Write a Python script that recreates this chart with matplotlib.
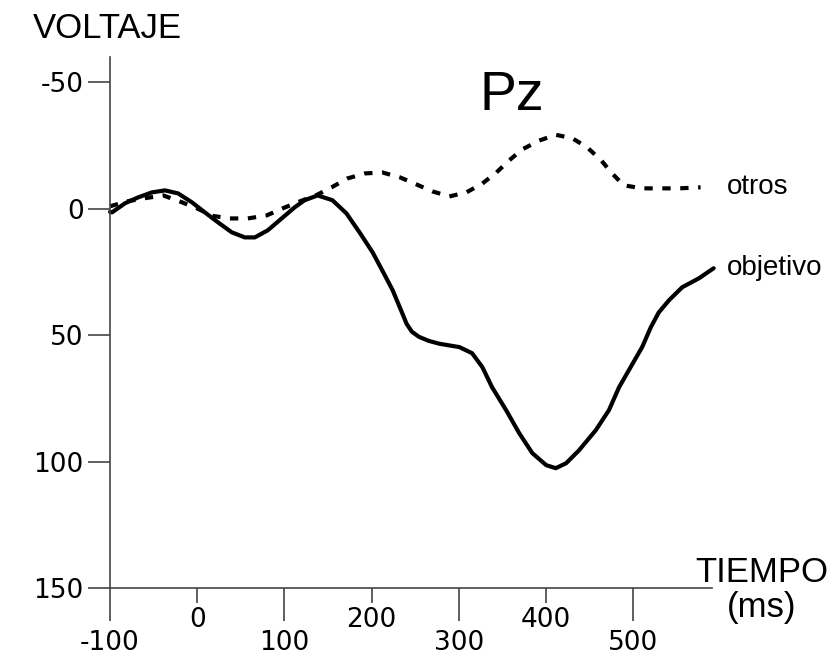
import matplotlib.pyplot as plt
from matplotlib.ticker import FixedLocator

# ERP at Pz, y axis inverted (negative up)
obj_t = [-100, -97.7, -82.8, -68, -52, -37, -22, -6.2, 8.7, 23.6, 39.6, 54.5, 66, 80.8,
         96.8, 111.7, 123, 138, 155, 171, 186, 201, 212, 224, 235, 240, 246, 254, 265,
         278, 300.5, 315, 326.8, 338, 354, 369, 384, 400, 411, 423, 437.7, 457, 472,
         483.5, 497, 510, 520, 529, 540.7, 556, 575, 592]
obj_v = [1.2, 1.4, -2.2, -4.5, -6.5, -7.3, -6.1, -2.6, 1.4, 5.3, 9.3, 11.3, 11.3, 8.5,
         3.8, -0.6, -3.4, -5.3, -3.4, 1.8, 9.3, 17.2, 24.3, 32.2, 41.3, 45.5, 48.6, 50.6, 52.2,
         53.4, 54.7, 57.1, 62.6, 70.6, 79.6, 88.7, 96.6, 101.4, 102.6, 100.6, 95.5, 87.5, 79.6,
         70.6, 62.5, 54.7, 46.8, 41, 36.2, 31, 27.5, 23.5]

otr_t = [-100, -80, -60, -39, -17.6, -0.5, 18, 37, 58, 79.6, 98, 118, 137, 154, 172,
         192, 212, 232, 251, 269.6, 289, 308.5, 326.8, 343, 357.7, 372.5, 392, 411, 430,
         447, 463, 475.5, 489, 510, 531.6, 552, 577]
otr_v = [-1, -3, -4.2, -5.3, -2.6, -0.2, 2.8, 3.8, 3.8, 2.6, -0.2, -3, -5.5, -8.5, -12,
         -14, -14.4, -12.5, -9.7, -6.9, -4.9, -6.5, -10, -14.4, -19.2, -23.5, -27, -29.3, -27.9,
         -24.3, -19.2, -14, -9.3, -8.1, -8.1, -8.1, -8.5]

x_major = [-100, 100, 300, 500]
x_minor = [0, 200, 400]
y_ticks = [-50, 0, 50, 100, 150]

word_font = 'Liberation Sans'
num_font = 'DejaVu Sans'

fig = plt.figure(figsize=(8.36, 6.57), dpi=100)
ax = fig.add_axes([0.1316, 0.105, 0.720, 0.808])

ax.plot(obj_t, obj_v, color='black', lw=3.0, clip_on=False,
        solid_capstyle='round', solid_joinstyle='round')
ax.plot(otr_t, otr_v, color='black', lw=3.0, clip_on=False,
        linestyle=(0, (2.0, 2.3)), dash_capstyle='butt', dash_joinstyle='round')

ax.set_xlim(-100, 590)
ax.set_ylim(150, -60)

for s in ['top', 'right']:
    ax.spines[s].set_visible(False)
for s in ['left', 'bottom']:
    ax.spines[s].set_color('#444444')
    ax.spines[s].set_linewidth(1.2)

ax.xaxis.set_major_locator(FixedLocator(x_major))
ax.xaxis.set_minor_locator(FixedLocator(x_minor))
ax.set_xticklabels([str(v) for v in x_major], fontfamily=num_font, fontsize=19)
ax.set_xticklabels([str(v) for v in x_minor], minor=True, fontfamily=num_font, fontsize=19)
ax.tick_params(axis='x', which='major', length=24, width=1.2, color='#444444', pad=6)
ax.tick_params(axis='x', which='minor', length=11, width=1.2, color='#444444', pad=3)

ax.set_yticks(y_ticks)
ax.set_yticklabels([str(v) for v in y_ticks], fontfamily=num_font, fontsize=19)
ax.tick_params(axis='y', length=16, width=1.2, color='#444444', pad=3)

fig.text(33 / 836, 0.942, 'VOLTAJE', fontfamily=word_font, fontsize=25, va='baseline')
fig.text(480 / 836, 0.8326, 'Pz', fontfamily=word_font, fontsize=40, va='baseline')
fig.text(762 / 836, 75 / 657, 'TIEMPO', fontfamily=word_font, fontsize=25,
         va='baseline', ha='center')
fig.text(762 / 836, 40 / 657, '(ms)', fontfamily=word_font, fontsize=25,
         va='baseline', ha='center')

ax.text(607, -8.5, 'otros', fontfamily=word_font, fontsize=20, va='center', clip_on=False)
ax.text(607, 23.5, 'objetivo', fontfamily=word_font, fontsize=20, va='center', clip_on=False)

fig.savefig('out.png', dpi=100)
